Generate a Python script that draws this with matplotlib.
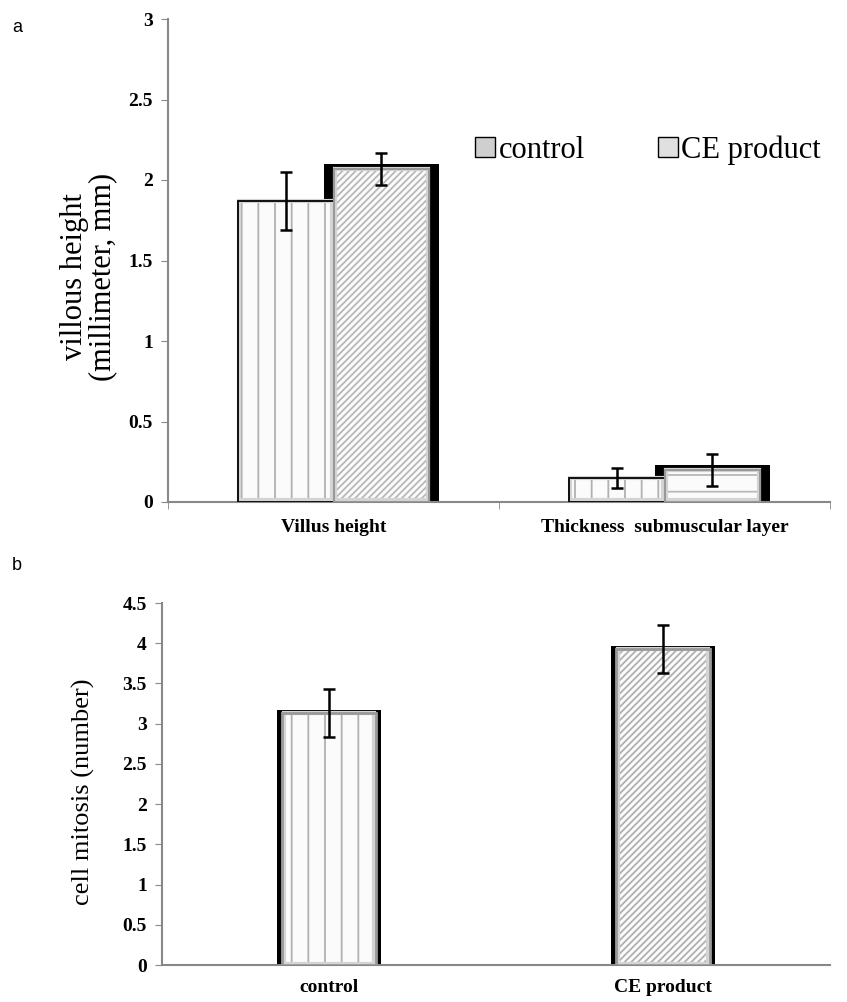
import matplotlib
matplotlib.use('Agg')
import matplotlib.pyplot as plt
from matplotlib.patches import Patch

plt.rcParams['font.family'] = ['Liberation Serif', 'DejaVu Serif']
plt.rcParams['hatch.linewidth'] = 1.3

# panel a data
groups_a = ['Villus height', 'Thickness  submuscular layer']
control_a = [1.87, 0.15]
control_a_err = [0.18, 0.06]
ce_a = [2.07, 0.20]
ce_a_err = [0.10, 0.10]

# panel b data
groups_b = ['control', 'CE product']
mitosis = [3.13, 3.93]
mitosis_err = [0.30, 0.30]

W, H = 847, 1002
fig = plt.figure(figsize=(W / 100, H / 100), dpi=100)

def rect(l, t, r, b):
    return [l / W, 1 - b / H, (r - l) / W, (b - t) / H]

def style_axis(ax):
    for s in ['top', 'right']:
        ax.spines[s].set_visible(False)
    for s in ['left', 'bottom']:
        ax.spines[s].set_color('#888888')
        ax.spines[s].set_linewidth(1.5)
    ax.tick_params(axis='y', direction='out', length=5, color='#888888',
                   labelsize=14, pad=6)
    ax.tick_params(axis='x', which='major', length=0, labelsize=14, pad=12)
    ax.tick_params(axis='x', which='minor', direction='out', length=5,
                   color='#888888')
    for lab in ax.get_yticklabels() + ax.get_xticklabels():
        lab.set_fontweight('bold')

def bevel(ax, x, h, w, dy):
    # soft inner frame to give the bars a raised look
    ax.bar(x, [v - dy for v in h], bottom=dy, width=w, fill=False,
           edgecolor='#d4d4d4', linewidth=3, zorder=3)

# ---------- panel a ----------
ax = fig.add_axes(rect(168, 19, 830, 502))
bw = 0.29
xs = range(len(groups_a))
xc = [x - bw / 2 for x in xs]
xe = [x + bw / 2 for x in xs]

# black shadow behind CE bars
ax.bar(xe, [v + 0.03 for v in ce_a], width=bw + 0.055, color='black',
       zorder=1)
ax.bar(xc, control_a, width=bw, facecolor='#fbfbfb', edgecolor='#b0b0b0',
       hatch='|', linewidth=0, zorder=2)
bevel(ax, xc, control_a, bw - 0.012, 0.012)
ax.bar(xc, control_a, width=bw, fill=False, edgecolor='black',
       linewidth=1.3, zorder=4)
ax.bar(xe, ce_a, width=bw, facecolor='#fbfbfb', edgecolor='#b8b8b8',
       hatch=['/////', '-'], linewidth=0, zorder=2)
bevel(ax, xe, ce_a, bw - 0.012, 0.012)
ax.bar(xe, ce_a, width=bw, fill=False, edgecolor='#999999',
       linewidth=1.5, zorder=4)
ax.errorbar(xc, control_a, yerr=control_a_err, fmt='none', ecolor='black',
            elinewidth=1.8, capsize=4.5, capthick=1.8, zorder=5)
ax.errorbar(xe, ce_a, yerr=ce_a_err, fmt='none', ecolor='black',
            elinewidth=1.8, capsize=4.5, capthick=1.8, zorder=5)

ax.set_xlim(-0.5, 1.5)
ax.set_ylim(0, 3)
ax.set_yticks([0, 0.5, 1, 1.5, 2, 2.5, 3])
ax.set_yticklabels(['0', '0.5', '1', '1.5', '2', '2.5', '3'])
ax.set_xticks(list(xs))
ax.set_xticklabels(groups_a)
ax.set_xticks([-0.5, 0.5, 1.5], minor=True)
ax.set_ylabel('villous height\n(millimeter, mm)', fontsize=22,
              linespacing=0.95)
ax.yaxis.set_label_coords(-0.077, 0.466)
style_axis(ax)

handles = [Patch(facecolor='#cfcfcf', edgecolor='black', linewidth=1),
           Patch(facecolor='#e0e0e0', edgecolor='black', linewidth=1)]
fig.legend(handles, ['control', 'CE product'], loc='center',
           bbox_to_anchor=(648 / W, 1 - 150 / H), ncol=2, frameon=False,
           fontsize=22, handlelength=0.65, handleheight=0.65,
           handletextpad=0.1, columnspacing=2.4)

# ---------- panel b ----------
bx = fig.add_axes(rect(162, 603, 830, 965))
xb = range(len(groups_b))
bwb = 0.28
bx.bar(xb, [v + 0.04 for v in mitosis], width=bwb + 0.03, color='black',
       zorder=1)
bx.bar(xb, mitosis, width=bwb, facecolor='#fbfbfb', edgecolor='#b0b0b0',
       hatch=['|', '/////'], linewidth=0, zorder=2)
bevel(bx, xb, mitosis, bwb - 0.012, 0.015)
bx.bar(xb, mitosis, width=bwb, fill=False, edgecolor='#999999',
       linewidth=2, zorder=4)
bx.errorbar(xb, mitosis, yerr=mitosis_err, fmt='none', ecolor='black',
            elinewidth=1.8, capsize=4.5, capthick=1.8, zorder=5)
bx.set_xlim(-0.5, 1.5)
bx.set_ylim(0, 4.5)
bx.set_yticks([0, 0.5, 1, 1.5, 2, 2.5, 3, 3.5, 4, 4.5])
bx.set_yticklabels(['0', '0.5', '1', '1.5', '2', '2.5', '3', '3.5', '4', '4.5'])
bx.set_xticks(list(xb))
bx.set_xticklabels(groups_b)
bx.set_ylabel('cell mitosis (number)', fontsize=19)
bx.yaxis.set_label_coords(-0.1, 0.478)
style_axis(bx)
bx.tick_params(axis='x', which='major', pad=10)

fig.text(12 / W, 1 - 27 / H, 'a', family='Liberation Sans', fontsize=13,
         va='center')
fig.text(12 / W, 1 - 566 / H, 'b', family='Liberation Sans', fontsize=13,
         va='center')

fig.savefig('out.png', dpi=100)
